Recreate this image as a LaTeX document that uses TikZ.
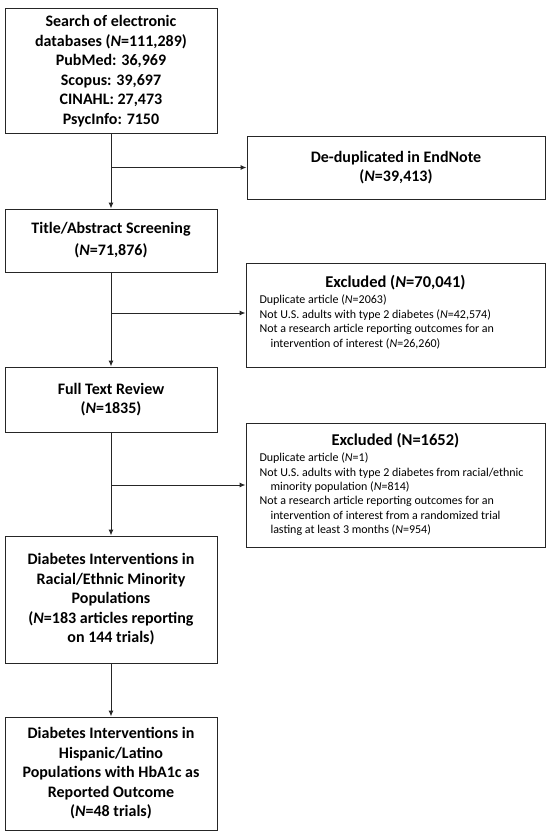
\documentclass[tikz,border=0pt]{standalone}
\usepackage{fontspec}
\setmainfont{Carlito}
\usetikzlibrary{arrows.meta}
\newcommand{\exitem}[1]{#1\par}
\newcommand{\exnl}{\\\hspace*{11pt}}
\begin{document}
\begin{tikzpicture}[x=1pt,y=-1pt,
  every node/.style={inner sep=0pt},
  mainbox/.style={draw=black!85, line width=1pt, align=center,
    font=\fontsize{16}{19.5}\selectfont\bfseries},
  exbox/.style={draw=black!85, line width=1pt,
    font=\fontsize{12}{14.4}\selectfont},
  conn/.style={draw=black!85, line width=1pt},
  arr/.style={conn, -{Latex[length=6pt,width=5pt]}}]
\useasboundingbox (0,0) rectangle (550,835);
\fill[white] (0,0) rectangle (550,835);
\node[mainbox, minimum width=212pt, minimum height=125pt] (b1) at (111,71)
  {Search of electronic\\databases (\textit{N}=111,289)\\PubMed: 36,969\\Scopus: 39,697\\CINAHL: 27,473\\PsycInfo: 7150};
\node[mainbox, minimum width=298pt, minimum height=63pt] (dd) at (396,167.5)
  {De-duplicated in EndNote\\(\textit{N}=39,413)};
\node[mainbox, minimum width=212pt, minimum height=63pt,
  font=\fontsize{16}{22}\selectfont\bfseries] (b2) at (111,240.5)
  {Title/Abstract Screening\\(\textit{N}=71,876)};
\node[exbox, minimum width=299pt, minimum height=104pt] (ex1) at (395.5,315)
  {\parbox{272pt}{\raggedright
   \centerline{\fontsize{16.5}{19}\selectfont\bfseries Excluded (\textit{N}=70,041)}\par
   \vspace*{2pt}
   \exitem{Duplicate article (\textit{N}=2063)}
   \exitem{Not U.S. adults with type 2 diabetes (\textit{N}=42,574)}
   \exitem{Not a research article reporting outcomes for an\exnl intervention of interest (\textit{N}=26,260)}
   \vspace*{6pt}}};
\node[mainbox, minimum width=212pt, minimum height=65pt] (b3) at (111,399.5)
  {Full Text Review\\(\textit{N}=1835)};
\node[exbox, minimum width=299pt, minimum height=124pt] (ex2) at (395.5,485)
  {\parbox{272pt}{\raggedright
   \centerline{\fontsize{16.5}{19}\selectfont\bfseries Excluded (N=1652)}\par
   \vspace*{2pt}
   \exitem{Duplicate article (\textit{N}=1)}
   \exitem{Not U.S. adults with type 2 diabetes from racial/ethnic\exnl minority population (\textit{N}=814)}
   \exitem{Not a research article reporting outcomes for an\exnl intervention of interest from a randomized trial\exnl lasting at least 3 months (\textit{N}=954)}
   \vspace*{1pt}}};
\node[mainbox, minimum width=212pt, minimum height=127pt] (b4) at (111,599.5)
  {Diabetes Interventions in\\Racial/Ethnic Minority\\Populations\\(\textit{N}=183 articles reporting\\on 144 trials)};
\node[mainbox, minimum width=212pt, minimum height=113pt] (b5) at (111,773.5)
  {Diabetes Interventions in\\Hispanic/Latino\\Populations with HbA1c as\\Reported Outcome\\(\textit{N}=48 trials)};
\coordinate (c1) at (111,167.5);
\coordinate (c2) at (111,313);
\coordinate (c3) at (111,485);
\draw[arr] (b1.south) -- (b2.north);
\draw[arr] (c1) -- (dd.west);
\draw[arr] (b2.south) -- (b3.north);
\draw[arr] (c2) -- (c2 -| ex1.west);
\draw[arr] (b3.south) -- (b4.north);
\draw[arr] (c3) -- (ex2.west);
\draw[arr] (b4.south) -- (b5.north);
\end{tikzpicture}
\end{document}
